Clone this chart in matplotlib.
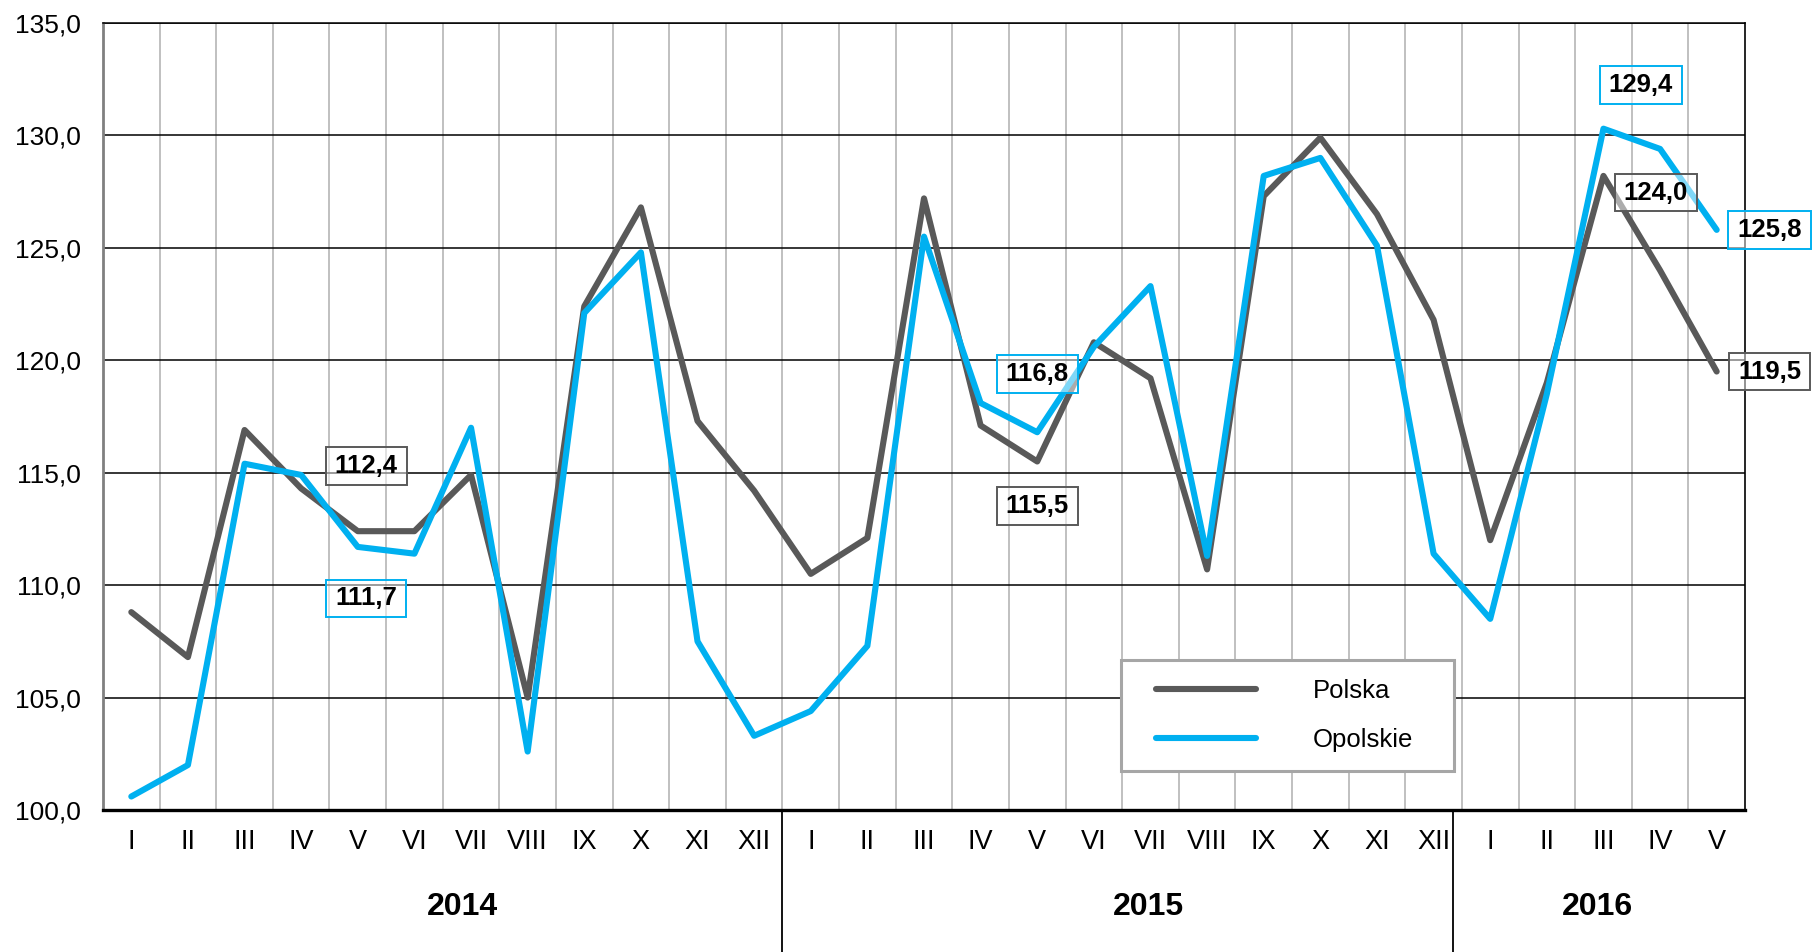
import matplotlib
matplotlib.use("Agg")
import matplotlib.pyplot as plt
import matplotlib.transforms as mtransforms
from matplotlib.patches import Rectangle
from matplotlib.ticker import FuncFormatter

plt.rcParams["font.family"] = ["Liberation Sans", "DejaVu Sans"]

months = ["I", "II", "III", "IV", "V", "VI", "VII", "VIII", "IX", "X", "XI", "XII",
          "I", "II", "III", "IV", "V", "VI", "VII", "VIII", "IX", "X", "XI", "XII",
          "I", "II", "III", "IV", "V"]
years = ["2014", "2015", "2016"]

polska = [108.8, 106.8, 116.9, 114.3, 112.4, 112.4, 114.9, 105.0, 122.4, 126.8, 117.3, 114.2,
          110.5, 112.1, 127.2, 117.1, 115.5, 120.8, 119.2, 110.7, 127.3, 129.9, 126.5, 121.8,
          112.0, 119.0, 128.2, 124.0, 119.5]
opolskie = [100.6, 102.0, 115.4, 114.9, 111.7, 111.4, 117.0, 102.6, 122.1, 124.8, 107.5, 103.3,
            104.4, 107.3, 125.5, 118.1, 116.8, 120.6, 123.3, 111.3, 128.2, 129.0, 125.1, 111.4,
            108.5, 118.5, 130.3, 129.4, 125.8]

# which points get a value box, and where the box sits (offset in points)
labels_polska = {4: (6, 47), 16: (0, -32), 27: (-3, 56), 28: (38, 0)}
labels_opolskie = {4: (6, -37), 16: (0, 42), 27: (-14, 46), 28: (38, 0)}

GRAY = "#595959"
CYAN = "#00B0F0"

fig = plt.figure(figsize=(18.12, 9.52), dpi=100)
ax = fig.add_axes([103 / 1812, 1 - 810 / 952, 1642 / 1812, 787 / 952])

x = list(range(len(months)))
ax.plot(x, polska, color=GRAY, lw=4.4, solid_joinstyle="round",
        solid_capstyle="round", label="Polska", zorder=3)
ax.plot(x, opolskie, color=CYAN, lw=4.4, solid_joinstyle="round",
        solid_capstyle="round", label="Opolskie", zorder=3)

ax.set_xlim(-0.5, len(months) - 0.5)
ax.set_ylim(100, 135)
ax.set_yticks(range(100, 136, 5))
ax.yaxis.set_major_formatter(FuncFormatter(lambda v, p: f"{v:.1f}".replace(".", ",")))
ax.set_xticks(x)
ax.set_xticklabels(months)
ax.tick_params(axis="y", length=0, pad=16, labelsize=19)
ax.tick_params(axis="x", length=0, pad=14, labelsize=19.5)

# grid: black horizontals, light gray verticals between categories
for v in range(105, 136, 5):
    ax.axhline(v, color="black", lw=1.1, zorder=1)
for b in range(len(months) - 1):
    ax.axvline(b + 0.5, color="#C0C0C0", lw=1.4, zorder=0.5)

ax.spines["left"].set_color("#808080")
ax.spines["left"].set_linewidth(2.0)
ax.spines["bottom"].set_color("black")
ax.spines["bottom"].set_linewidth(2.4)
ax.spines["top"].set_linewidth(1.1)
ax.spines["right"].set_linewidth(1.2)

# year groups below the month labels
trans = mtransforms.blended_transform_factory(ax.transData, ax.transAxes)
year_pos = [5.84, 17.96, 25.9]
separators = [11.5, 23.35]
for yr, xp in zip(years, year_pos):
    ax.text(xp, -0.123, yr, transform=trans, ha="center", va="center",
            fontsize=23, fontweight="bold")
for s in separators:
    ax.plot([s, s], [0, -0.25], transform=trans, color="black", lw=1.3, clip_on=False)


# value boxes
def _label(series, idx, off, color):
    ax.annotate(f"{series[idx]:.1f}".replace(".", ","), (idx, series[idx]),
                xytext=off, textcoords="offset points", ha="center", va="center",
                fontsize=18.5, fontweight="bold", zorder=6, annotation_clip=False,
                bbox=dict(boxstyle="square,pad=0.35", mutation_aspect=0.75,
                          facecolor=(1, 1, 1, 0.5), edgecolor=color, lw=1.4))


for i, off in labels_polska.items():
    _label(polska, i, off, GRAY)
for i, off in labels_opolskie.items():
    _label(opolskie, i, off, CYAN)

# legend with its own frame
ax.add_patch(Rectangle((0.620, 0.0496), 0.2028, 0.141, transform=ax.transAxes,
                       facecolor="white", edgecolor="#A6A6A6", lw=2.2, zorder=4))
leg = ax.legend(loc="center left", bbox_to_anchor=(0.620 + 35 / 1642, 0.0496 + 0.0705),
                frameon=False, fontsize=18.5, handlelength=3.9, handletextpad=2.2,
                labelspacing=1.0, borderpad=0, borderaxespad=0)
leg.set_zorder(5)

fig.savefig("out.png", dpi=100)
